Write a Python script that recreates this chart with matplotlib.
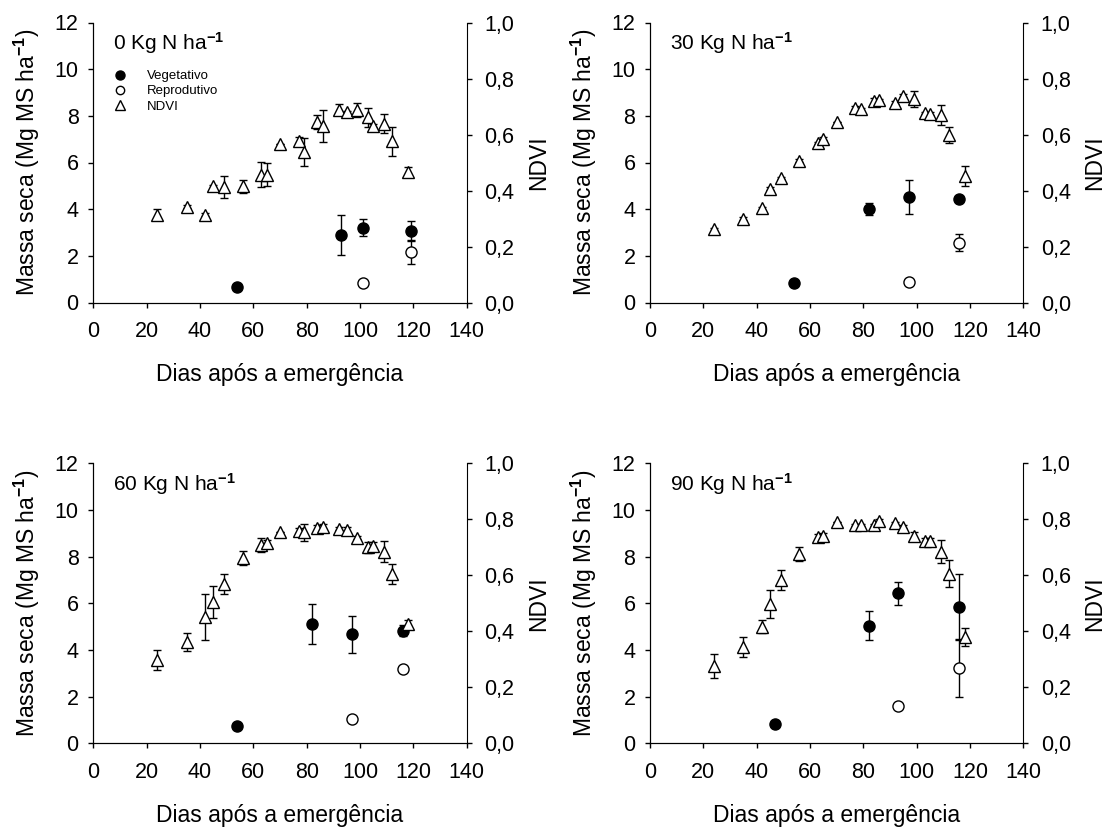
import matplotlib
matplotlib.use("Agg")
import matplotlib.pyplot as plt
from matplotlib.lines import Line2D
from matplotlib.ticker import FuncFormatter

plt.rcParams["font.family"] = ["Liberation Sans", "DejaVu Sans"]
plt.rcParams["mathtext.fontset"] = "custom"
plt.rcParams["mathtext.rm"] = "Liberation Sans"
plt.rcParams["mathtext.it"] = "Liberation Sans"
plt.rcParams["mathtext.bf"] = "Liberation Sans:bold"

# NDVI sampling days (same for all doses)
ndvi_days = [24, 35, 42, 45, 49, 56, 63, 65, 70, 77, 79, 84, 86, 92, 95, 99, 103, 105, 109, 112, 118]

# 0 kg N
ndvi_0 = [0.314, 0.342, 0.314, 0.415, 0.413, 0.415, 0.457, 0.457, 0.565, 0.576, 0.538,
          0.645, 0.631, 0.689, 0.679, 0.687, 0.661, 0.631, 0.639, 0.576, 0.465]
ndvi_err_0 = [0.021, 0.005, 0.005, 0.005, 0.040, 0.024, 0.045, 0.040, 0.0, 0.015, 0.050,
              0.024, 0.058, 0.019, 0.005, 0.026, 0.035, 0.005, 0.035, 0.052, 0.018]
veg_days_0 = [54, 93, 101, 119]
veg_0 = [0.66, 2.89, 3.21, 3.06]
veg_err_0 = [0.0, 0.84, 0.36, 0.44]
rep_days_0 = [101, 119]
rep_0 = [0.84, 2.17]
rep_err_0 = [0.0, 0.53]

# 30 kg N
ndvi_30 = [0.261, 0.300, 0.336, 0.406, 0.445, 0.506, 0.570, 0.585, 0.645, 0.696, 0.690,
           0.719, 0.723, 0.713, 0.738, 0.726, 0.677, 0.675, 0.671, 0.598, 0.452]
ndvi_err_30 = [0.005, 0.005, 0.005, 0.005, 0.005, 0.005, 0.005, 0.005, 0.0, 0.005, 0.005,
               0.010, 0.005, 0.005, 0.005, 0.029, 0.005, 0.005, 0.036, 0.029, 0.036]
veg_days_30 = [54, 82, 97, 116]
veg_30 = [0.84, 4.01, 4.53, 4.44]
veg_err_30 = [0.1, 0.27, 0.73, 0.0]
rep_days_30 = [97, 116]
rep_30 = [0.86, 2.56]
rep_err_30 = [0.0, 0.36]

# 60 kg N
ndvi_60 = [0.298, 0.363, 0.452, 0.506, 0.569, 0.661, 0.708, 0.717, 0.756, 0.760, 0.754,
           0.769, 0.774, 0.767, 0.762, 0.734, 0.700, 0.705, 0.685, 0.605, 0.426]
ndvi_err_60 = [0.037, 0.032, 0.083, 0.057, 0.037, 0.025, 0.024, 0.010, 0.0, 0.010, 0.030,
               0.010, 0.010, 0.005, 0.010, 0.005, 0.019, 0.015, 0.036, 0.037, 0.016]
veg_days_60 = [54, 82, 97, 116]
veg_60 = [0.76, 5.10, 4.67, 4.83]
veg_err_60 = [0.0, 0.85, 0.80, 0.22]
rep_days_60 = [97, 116]
rep_60 = [1.06, 3.20]
rep_err_60 = [0.0, 0.0]

# 90 kg N
ndvi_90 = [0.276, 0.343, 0.417, 0.498, 0.583, 0.676, 0.736, 0.741, 0.789, 0.780, 0.780,
           0.780, 0.795, 0.786, 0.774, 0.741, 0.724, 0.724, 0.685, 0.605, 0.379]
ndvi_err_90 = [0.043, 0.036, 0.022, 0.049, 0.035, 0.024, 0.010, 0.010, 0.0, 0.005, 0.005,
               0.005, 0.005, 0.005, 0.005, 0.015, 0.010, 0.010, 0.040, 0.048, 0.033]
veg_days_90 = [47, 82, 93, 116]
veg_90 = [0.83, 5.04, 6.43, 5.86]
veg_err_90 = [0.0, 0.62, 0.49, 1.38]
rep_days_90 = [93, 116]
rep_90 = [1.60, 3.21]
rep_err_90 = [0.0, 1.22]

panels = [
    ("0", ndvi_0, ndvi_err_0, veg_days_0, veg_0, veg_err_0, rep_days_0, rep_0, rep_err_0),
    ("30", ndvi_30, ndvi_err_30, veg_days_30, veg_30, veg_err_30, rep_days_30, rep_30, rep_err_30),
    ("60", ndvi_60, ndvi_err_60, veg_days_60, veg_60, veg_err_60, rep_days_60, rep_60, rep_err_60),
    ("90", ndvi_90, ndvi_err_90, veg_days_90, veg_90, veg_err_90, rep_days_90, rep_90, rep_err_90),
]

W, H = 1107, 827
# axes boxes in pixels: (left, top of 12, right, baseline)
boxes = [(93.3, 22.5, 466.7, 302.5), (650, 22.5, 1023.4, 302.5),
         (93.3, 463.3, 466.7, 743.3), (650, 463.3, 1023.4, 743.3)]

TICK_FS = 15.5
LABEL_FS = 16.5
_EB = dict(capsize=3, elinewidth=1, capthick=1, ecolor="black", linestyle="none")

fig = plt.figure(figsize=(W / 100, H / 100), dpi=100)


def comma(v, _pos):
    return f"{v:.1f}".replace(".", ",")


for (dose, ndvi, ndvi_err, vd, veg, veg_err, rd, rep, rep_err), (l, t, r, b) in zip(panels, boxes):
    ax = fig.add_axes([l / W, 1 - b / H, (r - l) / W, (b - t) / H])
    ax2 = ax.twinx()

    ax.errorbar(vd, veg, yerr=veg_err, marker="o", ms=8, mfc="black", mec="black", **_EB)
    ax.errorbar(rd, rep, yerr=rep_err, marker="o", ms=8, mfc="white", mec="black", mew=1, **_EB)
    ax2.errorbar(ndvi_days, ndvi, yerr=ndvi_err, marker="^", ms=9, mfc="white", mec="black",
                 mew=1, **_EB)

    ax.set_xlim(0, 140)
    ax.set_ylim(0, 12)
    ax2.set_ylim(0, 1.0)
    ax.set_xticks(range(0, 141, 20))
    ax.set_yticks(range(0, 13, 2))
    ax2.set_yticks([0, 0.2, 0.4, 0.6, 0.8, 1.0])
    ax2.yaxis.set_major_formatter(FuncFormatter(comma))

    for a in (ax, ax2):
        a.spines["top"].set_visible(False)
        a.tick_params(direction="out", length=3.5, width=1, labelsize=TICK_FS)
    ax.spines["right"].set_visible(False)
    ax.tick_params(axis="x", pad=10)
    ax.tick_params(axis="y", pad=7)
    ax2.tick_params(axis="y", pad=9)

    ax.set_xlabel("Dias após a emergência", fontsize=LABEL_FS, labelpad=15)
    ax.set_ylabel("Massa seca (Mg MS ha$^{\\mathbf{-1}}$)", fontsize=LABEL_FS, labelpad=9)
    ax2.set_ylabel("NDVI", fontsize=LABEL_FS, labelpad=9)

    ax.text(0.053, 0.972, f"{dose} Kg N ha$^{{\\mathbf{{-1}}}}$", transform=ax.transAxes,
            fontsize=15, ha="left", va="top")

    if dose == "0":
        handles = [
            Line2D([0], [0], marker="o", ls="none", ms=6.5, mfc="black", mec="black"),
            Line2D([0], [0], marker="o", ls="none", ms=6, mfc="white", mec="black"),
            Line2D([0], [0], marker="^", ls="none", ms=7, mfc="white", mec="black"),
        ]
        ax.legend(handles, ["Vegetativo", "Reprodutivo", "NDVI"], loc="upper left",
                  bbox_to_anchor=(0.054, 0.83), frameon=False, fontsize=9.5,
                  handletextpad=1.5, labelspacing=0.22, borderpad=0, borderaxespad=0,
                  handlelength=1.0)

fig.savefig("out.png", dpi=100)
